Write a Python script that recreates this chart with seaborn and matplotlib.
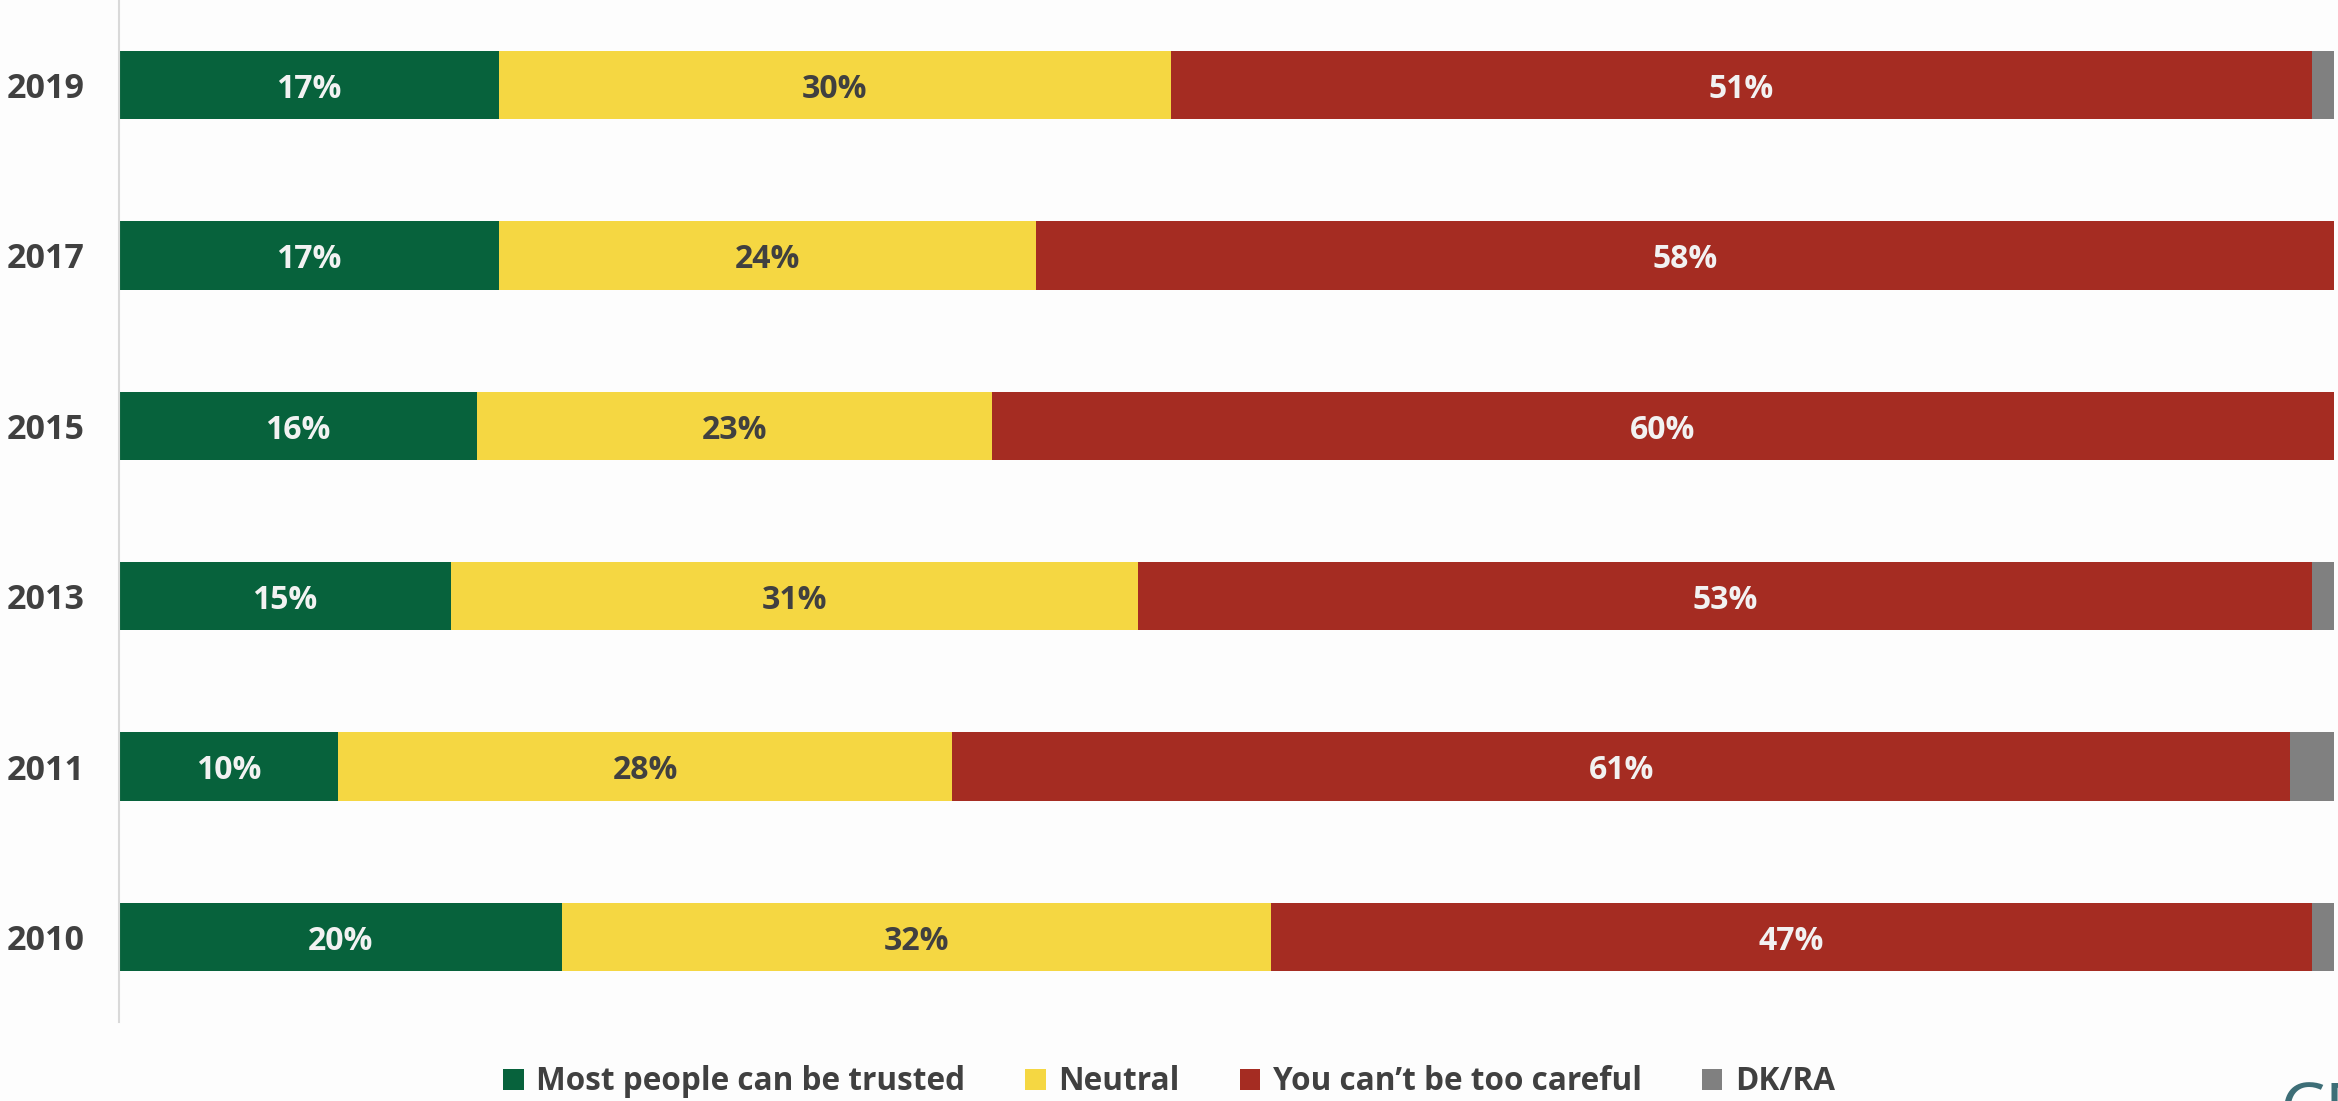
"""
plot.py
Barras empilhadas horizontais: confiança interpessoal por ano.
"""

import matplotlib
matplotlib.use("Agg")
import matplotlib.pyplot as plt
from matplotlib.patches import Patch
import pandas as pd
import seaborn as sns

years = ["2019", "2017", "2015", "2013", "2011", "2010"]
trusted = [17, 17, 16, 15, 10, 20]
neutral = [30, 24, 23, 31, 28, 32]
careful = [51, 58, 60, 53, 61, 47]
dk_ra = [1, 0, 0, 1, 2, 1]

series = ["Most people can be trusted", "Neutral", "You can\u2019t be too careful", "DK/RA"]
colors = ["#07623c", "#f5d742", "#a52c22", "#808080"]
label_colors = ["#f2f2f2", "#404040", "#f2f2f2", None]

sns.set_theme(style="white")
plt.rcParams["font.family"] = ["Open Sans", "DejaVu Sans"]
plt.rcParams["font.weight"] = "bold"

df = pd.DataFrame({"year": years, series[0]: trusted, series[1]: neutral,
                   series[2]: careful, series[3]: dk_ra})
# barras somam 100% por linha
total = df[series].sum(axis=1)
share = df[series].div(total, axis=0) * 100
cum = share.cumsum(axis=1)
cum["year"] = df["year"]

fig = plt.figure(figsize=(23.38, 11.01), dpi=100)
fig.patch.set_facecolor("#fdfdfd")
ax = fig.add_axes([119 / 2338, 1 - 1022 / 1101, (2334 - 119) / 2338, 1022 / 1101])
ax.set_facecolor("#fdfdfd")

# desenha do acumulado maior para o menor (cada camada cobre a anterior)
for name, col in reversed(list(zip(series, colors))):
    sns.barplot(data=cum, x=name, y="year", order=years, color=col, orient="h",
                width=0.4, saturation=1, ax=ax, linewidth=0)

ax.set_xlim(0, 100)
ax.set_ylim(5.5, -0.5)
ax.set_xlabel("")
ax.set_ylabel("")
ax.set_xticks([])
ax.tick_params(axis="y", length=0, pad=25, labelsize=24.5, labelcolor="#404040")
for lbl in ax.get_yticklabels():
    lbl.set_fontweight("bold")
for side in ["top", "right", "bottom"]:
    ax.spines[side].set_visible(False)
ax.spines["left"].set_color("#d9d9d9")
ax.spines["left"].set_linewidth(1.5)

# rótulos de valor
for i, yr in enumerate(years):
    start = 0
    for j, name in enumerate(series):
        w = share.loc[i, name]
        raw = df.loc[i, name]
        if label_colors[j] is not None and raw > 0:
            ax.text(start + w / 2, i + 0.025, f"{raw}%", ha="center", va="center",
                    fontsize=23, fontweight="bold", color=label_colors[j])
        start += w

handles = [Patch(facecolor=c, edgecolor="none") for c in colors]
fig.legend(handles, series, loc="center", bbox_to_anchor=(0.5, 1 - 1082 / 1101),
           ncol=4, frameon=False, fontsize=22.7, handlelength=0.65, handleheight=0.65,
           handletextpad=0.4, columnspacing=1.9, labelcolor="#404040")

# logotipo cortado no canto inferior direito
fig.text(2280 / 2338, 1 - 1080 / 1101, "CP", ha="left", va="top", fontsize=52,
         color="#3d6e77", fontweight="normal")

fig.savefig("out.png", dpi=100, facecolor=fig.get_facecolor())
